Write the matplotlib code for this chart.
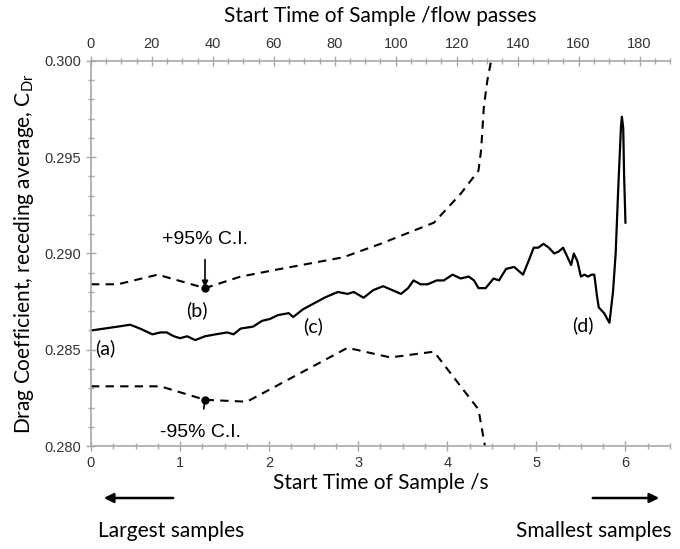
import numpy as np
import matplotlib
matplotlib.use("Agg")
import matplotlib.pyplot as plt

plt.rcParams['mathtext.default'] = 'regular'

# receding average of drag coefficient vs start time of sample (s)
t_cd = [0.00, 0.15, 0.30, 0.44, 0.55, 0.69, 0.78, 0.85, 0.93, 1.00, 1.08, 1.17,
        1.28, 1.40, 1.53, 1.60, 1.68, 1.82, 1.92, 2.01, 2.10, 2.22, 2.27, 2.38,
        2.50, 2.62, 2.77, 2.88, 2.95, 3.06, 3.17, 3.28, 3.38, 3.48, 3.56, 3.62,
        3.70, 3.78, 3.88, 3.96, 4.06, 4.15, 4.24, 4.30, 4.35, 4.43, 4.52, 4.58,
        4.66, 4.75, 4.85, 4.92, 4.97, 5.02, 5.08, 5.14, 5.20, 5.25, 5.30, 5.35,
        5.39, 5.42, 5.46, 5.50, 5.54, 5.58, 5.62, 5.65, 5.68, 5.70, 5.76, 5.82,
        5.86, 5.89, 5.92, 5.95, 5.96, 5.975, 5.985, 6.00]
cd = [0.2860, 0.2861, 0.2862, 0.2863, 0.2861, 0.2858, 0.2859, 0.2859, 0.2857, 0.2856, 0.2857, 0.2855,
      0.2857, 0.2858, 0.2859, 0.2858, 0.2861, 0.2862, 0.2865, 0.2866, 0.2868, 0.2869, 0.2867, 0.2871,
      0.2874, 0.2877, 0.2880, 0.2879, 0.2880, 0.2877, 0.2881, 0.2883, 0.2881, 0.2879, 0.2882, 0.2886,
      0.2884, 0.2884, 0.2886, 0.2886, 0.2889, 0.2887, 0.2888, 0.2886, 0.2882, 0.2882, 0.2887, 0.2886,
      0.2892, 0.2893, 0.2889, 0.2897, 0.2903, 0.2903, 0.2905, 0.2903, 0.2900, 0.2901, 0.2903, 0.2898,
      0.2894, 0.2900, 0.2896, 0.2888, 0.2889, 0.2888, 0.2889, 0.2889, 0.2878, 0.2872, 0.2869, 0.2864,
      0.2880, 0.2900, 0.2935, 0.2966, 0.2971, 0.2965, 0.2940, 0.2916]

# confidence interval bounds
t_up = [0.00, 0.30, 0.75, 1.28, 1.68, 2.13, 2.83, 3.25, 3.85, 4.15, 4.35, 4.38, 4.41, 4.45, 4.50]
ci_up = [0.2884, 0.2884, 0.2889, 0.2882, 0.2888, 0.2892, 0.2898, 0.2905, 0.2916, 0.2931, 0.2943,
         0.2954, 0.2976, 0.2990, 0.3002]
t_lo = [0.00, 0.78, 1.28, 1.75, 2.88, 3.36, 3.85, 4.35, 4.43]
ci_lo = [0.2831, 0.2831, 0.2824, 0.2823, 0.2851, 0.2846, 0.2849, 0.2819, 0.2798]

t_mark = 1.28
passes_max = 190

grey = '#a8a8a8'
tickfont = ['Liberation Sans', 'DejaVu Sans']
labfont = ['Lato', 'DejaVu Sans']

fig = plt.figure(figsize=(6.8, 5.49), dpi=100)
ax = fig.add_axes([0.1338, 0.1876, 0.8515, 0.7014])

ax.plot(t_cd, cd, color='black', lw=1.6, solid_joinstyle='round')
ax.plot(t_up, ci_up, color='black', lw=1.5, linestyle=(0, (4, 3)))
ax.plot(t_lo, ci_lo, color='black', lw=1.5, linestyle=(0, (4, 3)))

y_up = np.interp(t_mark, t_up, ci_up)
y_lo = np.interp(t_mark, t_lo, ci_lo)
ax.plot([t_mark, t_mark], [y_up, y_lo], 'o', color='black', ms=5)

ax.annotate('+95% C.I.', xy=(t_mark, y_up + 0.00005), xytext=(t_mark, 0.2907),
            ha='center', va='center', fontsize=14, family=tickfont,
            arrowprops=dict(arrowstyle='-|>', color='black', lw=1.2,
                            mutation_scale=9, shrinkA=6, shrinkB=0))
ax.annotate('-95% C.I.', xy=(t_mark, y_lo), xytext=(1.23, 0.2807),
            ha='center', va='center', fontsize=14, family=tickfont,
            arrowprops=dict(arrowstyle='-', color='black', lw=1.2,
                            shrinkA=9, shrinkB=0))

for lab, tx, ty in [('(a)', 0.16, 0.28509), ('(b)', 1.19, 0.28707),
                    ('(c)', 2.49, 0.28623), ('(d)', 5.52, 0.28629)]:
    ax.text(tx, ty, lab, ha='center', va='center', fontsize=14, family=labfont)

ax.set_xlim(0, 6.5)
ax.set_ylim(0.280, 0.300)
ax.set_xticks(np.arange(0, 7, 1))
ax.set_xticks(np.arange(0, 6.51, 0.25), minor=True)
ax.set_yticks(np.arange(0.280, 0.3001, 0.005))
ax.set_yticks(np.arange(0.280, 0.3001, 0.001), minor=True)
ax.yaxis.set_major_formatter(matplotlib.ticker.FormatStrFormatter('%.3f'))
for s in ['right', 'top']:
    ax.spines[s].set_visible(False)
for s in ['left', 'bottom']:
    ax.spines[s].set_color(grey)
    ax.spines[s].set_linewidth(1.2)
ax.tick_params(which='major', direction='inout', length=7, color=grey, width=1,
               labelsize=10.5, labelcolor='#333333')
ax.tick_params(which='minor', direction='inout', length=4, color=grey, width=1)
for t in ax.get_xticklabels() + ax.get_yticklabels():
    t.set_family(tickfont)

ax.set_xlabel('Start Time of Sample /s', fontsize=15, family=labfont, labelpad=2)
ax.set_ylabel('Drag Coefficient, receding average, C$_{Dr}$', fontsize=15,
              family=labfont, labelpad=6)

# second scale: flow passes
top = ax.twiny()
top.set_xlim(0, passes_max)
top.set_xticks(np.arange(0, 181, 20))
top.set_xticks(np.arange(0, 191, 5), minor=True)
for s in ['right', 'bottom', 'left']:
    top.spines[s].set_visible(False)
top.spines['top'].set_color(grey)
top.spines['top'].set_linewidth(1.2)
top.tick_params(which='major', direction='inout', length=7, color=grey, width=1,
                labelsize=10.5, labelcolor='#333333')
top.tick_params(which='minor', direction='inout', length=4, color=grey, width=1)
for t in top.get_xticklabels():
    t.set_family(tickfont)
top.set_xlabel('Start Time of Sample /flow passes', fontsize=15, family=labfont, labelpad=11)

# sample-size direction arrows
fig.patches.append(matplotlib.patches.FancyArrowPatch(
    (176 / 680, 1 - 498 / 549), (101 / 680, 1 - 498 / 549), transform=fig.transFigure,
    arrowstyle='-|>', mutation_scale=14, lw=1.8, color='black'))
fig.patches.append(matplotlib.patches.FancyArrowPatch(
    (590 / 680, 1 - 498 / 549), (662 / 680, 1 - 498 / 549), transform=fig.transFigure,
    arrowstyle='-|>', mutation_scale=14, lw=1.8, color='black'))
fig.text(171 / 680, 1 - 531 / 549, 'Largest samples', ha='center', va='center',
         fontsize=15, family=labfont)
fig.text(594 / 680, 1 - 531 / 549, 'Smallest samples', ha='center', va='center',
         fontsize=15, family=labfont)

fig.savefig('out.png', dpi=100)
